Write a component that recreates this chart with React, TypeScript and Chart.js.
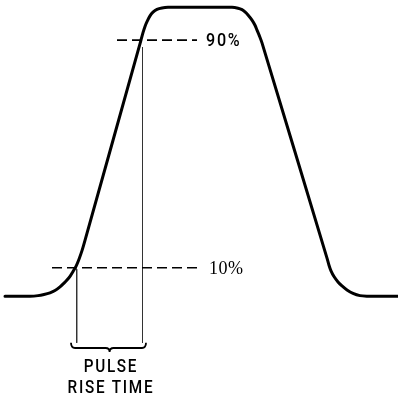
import React, { useEffect, useRef } from "react";
import { Chart, registerables } from "chart.js";

Chart.register(...registerables);

// Pulse waveform: time (arbitrary units) and amplitude (% of pulse height)
const pulseTime = [5, 30, 38, 44, 50, 55, 60, 64, 67, 70, 73, 76, 79, 82, 85, 141, 143, 145, 147, 150, 153, 157, 162, 168, 232, 238, 242, 245, 248, 252, 255, 257, 259.5, 262, 327, 329, 331, 334, 338, 342, 347, 353, 360, 367, 377, 398];
const pulseAmplitude = [0, 0, 0.2, 0.6, 1.2, 2.0, 3.3, 4.6, 5.7, 7.0, 8.7, 10.5, 13.0, 16.0, 19.6, 90, 92.6, 94.8, 96.5, 98.5, 99.8, 100.8, 101.3, 101.5, 101.5, 101.2, 100.7, 99.9, 98.8, 97.0, 95.2, 93.5, 91.4, 89.0, 13.4, 10.9, 8.9, 6.9, 5.0, 3.6, 2.2, 1.0, 0.2, 0, 0, 0];

// Threshold reference levels
const thresholdLevels = [10, 90];
const thresholdLabels = ["10%", "90%"];
const thresholdFrom = [52, 117];
const thresholdTo = [202, 197];
const thresholdLabelX = [209, 206];

// Rise-time markers
const riseStart = 76.7;
const riseEnd = 142.5;
const riseMarkerTop = [9.5, 87.5];
const markerBottom = -16.4;
const braceFrom = 71;
const braceTo = 146;
const braceLevel = -18.2;
const braceTip = -19.6;
const riseLabelLines = ["PULSE", "RISE TIME"];
const riseLabelLevels = [-25.2, -32.3];

const SANS = '500 18px Roboto, "Liberation Sans", sans-serif';
const SANS_BIG = '500 19px Roboto, "Liberation Sans", sans-serif';
const SERIF = '19px "Liberation Serif", "DejaVu Serif", serif';

function condensedText(ctx: any, text: string, x: number, y: number, font: string, align: string, squeeze: number, spacing: number) {
  ctx.save();
  ctx.font = font;
  ctx.letterSpacing = spacing + "px";
  ctx.textAlign = align;
  ctx.textBaseline = "middle";
  ctx.translate(x, y);
  ctx.scale(squeeze, 1);
  ctx.fillText(text, align === "center" ? spacing / 2 : 0, 0);
  ctx.restore();
}

const annotationPlugin = {
  id: "pulseAnnotations",
  afterDatasetsDraw(chart: any) {
    const { ctx, scales } = chart;
    const xs = scales.x;
    const ys = scales.y;
    ctx.save();
    // brace
    const xL = xs.getPixelForValue(braceFrom);
    const xR = xs.getPixelForValue(braceTo);
    const xC = xs.getPixelForValue((riseStart + riseEnd) / 2);
    const yF = ys.getPixelForValue(braceLevel);
    const yT = ys.getPixelForValue(markerBottom);
    const yP = ys.getPixelForValue(braceTip);
    const r = 4;
    ctx.strokeStyle = "#000";
    ctx.lineWidth = 1.8;
    ctx.beginPath();
    ctx.moveTo(xL, yT);
    ctx.quadraticCurveTo(xL, yF, xL + r, yF);
    ctx.lineTo(xC - r, yF);
    ctx.quadraticCurveTo(xC, yF, xC, yP);
    ctx.quadraticCurveTo(xC, yF, xC + r, yF);
    ctx.lineTo(xR - r, yF);
    ctx.quadraticCurveTo(xR, yF, xR, yT);
    ctx.stroke();

    ctx.fillStyle = "#000";
    // threshold labels
    condensedText(ctx, thresholdLabels[0], xs.getPixelForValue(thresholdLabelX[0]), ys.getPixelForValue(thresholdLevels[0]) + 1, SERIF, "left", 0.95, 0.5);
    condensedText(ctx, thresholdLabels[1], xs.getPixelForValue(thresholdLabelX[1]), ys.getPixelForValue(thresholdLevels[1]) + 1, SANS_BIG, "left", 0.85, 2);

    // rise time label
    riseLabelLines.forEach((t, i) => {
      condensedText(ctx, t, xC + 0.5, ys.getPixelForValue(riseLabelLevels[i]), SANS, "center", 0.85, 2);
    });
    ctx.restore();
  },
};

export default function App() {
  const ref = useRef<HTMLCanvasElement | null>(null);
  useEffect(() => {
    if (!ref.current) return;
    const datasets: any[] = [
      {
        data: pulseTime.map((t, i) => ({ x: t, y: pulseAmplitude[i] })),
        borderColor: "#000",
        borderWidth: 3,
        pointRadius: 0,
        showLine: true,
        tension: 0.3,
        borderJoinStyle: "round",
        borderCapStyle: "round",
        fill: false,
      },
    ];
    thresholdLevels.forEach((lvl, i) => {
      datasets.push({
        data: [
          { x: thresholdFrom[i], y: lvl },
          { x: thresholdTo[i], y: lvl },
        ],
        borderColor: "#000",
        borderWidth: 1.7,
        borderDash: [10, 5],
        pointRadius: 0,
        showLine: true,
      });
    });
    [riseStart, riseEnd].forEach((x, i) => {
      datasets.push({
        data: [
          { x, y: riseMarkerTop[i] },
          { x, y: markerBottom },
        ],
        borderColor: "#333",
        borderWidth: 1,
        pointRadius: 0,
        showLine: true,
      });
    });
    const chart = new Chart(ref.current, {
      type: "scatter",
      data: { datasets },
      options: {
        animation: false,
        responsive: true,
        maintainAspectRatio: false,
        layout: { padding: 0 },
        plugins: { legend: { display: false }, tooltip: { enabled: false } },
        events: [],
        scales: {
          x: { type: "linear", min: 0, max: 398, display: false },
          y: { type: "linear", min: -35.77, max: 104.08, display: false },
        },
      },
      plugins: [annotationPlugin],
    });
    return () => chart.destroy();
  }, []);
  return (
    <div style={{ position: "absolute", left: 0, top: 0, width: 398, height: 398, background: "#fff" }}>
      <canvas ref={ref} />
    </div>
  );
}
